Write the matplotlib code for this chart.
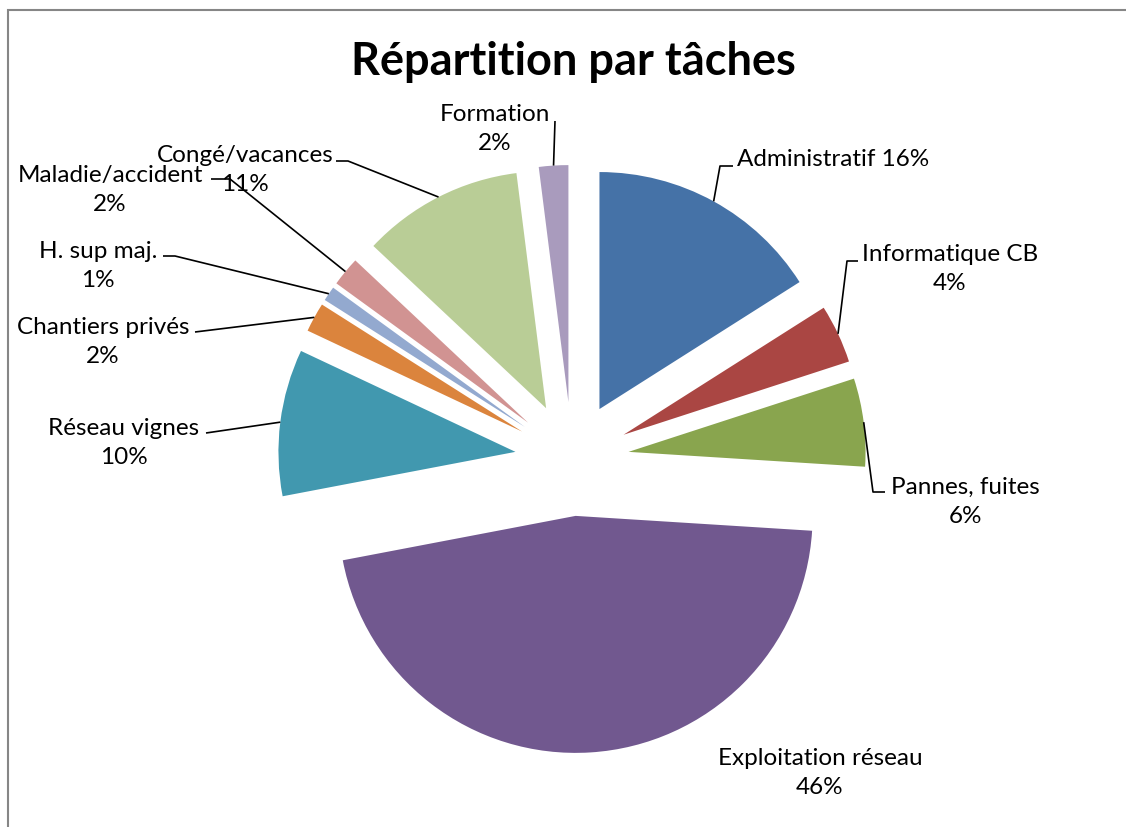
import matplotlib
matplotlib.use("Agg")
import matplotlib.pyplot as plt
from matplotlib.patches import Rectangle
import numpy as np

plt.rcParams['font.family'] = ['Lato', 'DejaVu Sans']

# data
categories = ["Administratif", "Informatique CB", "Pannes, fuites", "Exploitation réseau",
              "Réseau vignes", "Chantiers privés", "H. sup maj.", "Maladie/accident",
              "Congé/vacances", "Formation"]
values = [16, 4, 6, 46, 10, 2, 1, 2, 11, 2]
colors = ["#4572A7", "#AA4643", "#89A54E", "#71588F", "#4198AF",
          "#DB843D", "#93A9CF", "#D19392", "#B9CD96", "#A99BBD"]

W, H = 1126, 828
fig = plt.figure(figsize=(W / 100, H / 100), dpi=100)
ax = fig.add_axes([0, 0, 1, 1])

# pie in pixel-like data coords (y up)
cx, cy, R = 572, H - 460, 237
wedges, _ = ax.pie(values, colors=colors, startangle=90, counterclock=False,
                   explode=[57] * len(values), radius=R, center=(cx, cy),
                   frame=True, wedgeprops=dict(linewidth=0))
ax.set_xlim(0, W)
ax.set_ylim(0, H)
ax.axis('off')

# label layout: (text pos, ha, leader points after the anchor) in pixel coords, y down
layout = {
    "Administratif": ((737, 160), 'left', [(720, 167), (733, 167)]),
    "Informatique CB": ((950, 269), 'center', [(847, 262), (858, 262)]),
    "Pannes, fuites": ((965, 502), 'center', [(873, 493), (885, 493)]),
    "Exploitation réseau": ((820, 773), 'center', []),
    "Réseau vignes": ((124, 443), 'center', [(206, 434)]),
    "Chantiers privés": ((103, 342), 'center', [(195, 333)]),
    "H. sup maj.": ((98, 266), 'center', [(175, 257), (163, 257)]),
    "Maladie/accident": ((110, 190), 'center', [(230, 180), (211, 180)]),
    "Congé/vacances": ((245, 170), 'center', [(348, 162), (336, 162)]),
    "Formation": ((495, 129), 'center', [(555, 122)]),
}

for w, name, val in zip(wedges, categories, values):
    (tx, ty), ha, pts = layout[name]
    if ha == 'left':
        label = f"{name} {val}%"
    else:
        label = f"{name}\n{val}%"
    ax.text(tx, H - ty, label, ha=ha, va='center', multialignment='center',
            fontsize=17.5, color='black', linespacing=1.48)
    if pts:
        mid = np.deg2rad((w.theta1 + w.theta2) / 2)
        ax_, ay_ = w.center[0] + w.r * np.cos(mid), w.center[1] + w.r * np.sin(mid)
        xs = [ax_] + [p[0] for p in pts]
        ys = [ay_] + [H - p[1] for p in pts]
        ax.plot(xs, ys, color='black', lw=1.2, solid_capstyle='butt')

ax.text(573, H - 62, "Répartition par tâches", ha='center', va='center',
        fontsize=32.5, fontweight='bold')

# chart area border
fig.add_artist(Rectangle((8 / W, -0.05), 1.1, 1.05 - 11 / H, transform=fig.transFigure,
                         fill=False, edgecolor='#868686', lw=1.5))

fig.savefig("out.png", dpi=100)
